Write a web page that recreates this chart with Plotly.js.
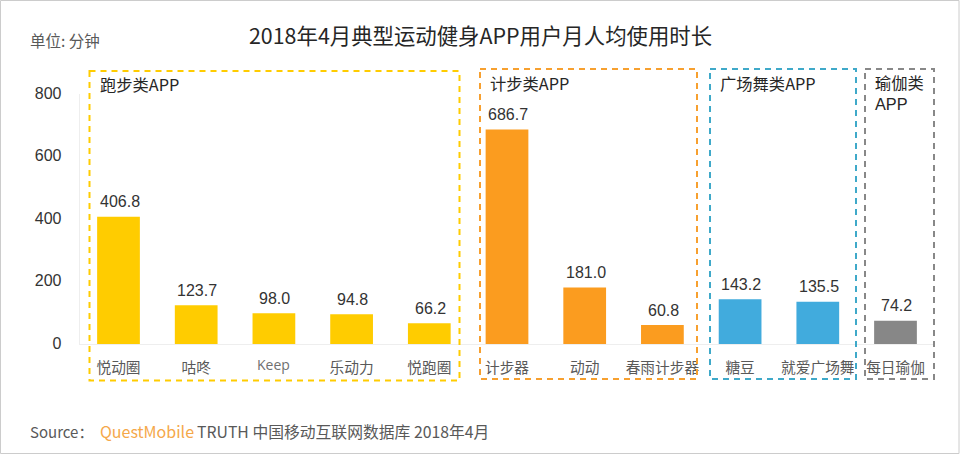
<!DOCTYPE html>
<html><head><meta charset="utf-8">
<script src="https://cdn.plot.ly/plotly-3.0.1.min.js"></script>
<style>html,body{margin:0;padding:0;background:#fff}#c{width:960px;height:454px}</style>
</head><body><div id="c"></div>
<script>
const categories=['悦动圈','咕咚','Keep','乐动力','悦跑圈','计步器','动动','春雨计步器','糖豆','就爱广场舞','每日瑜伽'];
const tickLabels=['悦动圈','咕咚','','乐动力','悦跑圈','计步器','动动','春雨计步器','糖豆','就爱广场舞','每日瑜伽'];
const values=[406.8,123.7,98.0,94.8,66.2,686.7,181.0,60.8,143.2,135.5,74.2];
const valueLabels=['406.8','123.7','98.0','94.8','66.2','686.7','181.0','60.8','143.2','135.5','74.2'];
const barColors=['#FFCC00','#FFCC00','#FFCC00','#FFCC00','#FFCC00','#FB9C1F','#FB9C1F','#FB9C1F','#41ABDD','#41ABDD','#878787'];
const yTicks=[0,200,400,600,800];
const W=960,H=454;
const sans='"Noto Sans CJK SC","Liberation Sans",sans-serif';
const latin='"Liberation Sans",Arial,sans-serif';
const px=x=>x/W, py=y=>1-y/H;
function box(x0,y0,x1,y1,color){return {type:'rect',xref:'paper',yref:'paper',x0:px(x0),x1:px(x1),y0:py(y0),y1:py(y1),line:{color:color,width:2,dash:'6px,5px'},fillcolor:'rgba(0,0,0,0)'};}
function label(x,y,text,size,color,anchor,family){return {xref:'paper',yref:'paper',x:px(x),y:py(y),text:text,showarrow:false,xanchor:anchor||'left',yanchor:'middle',align:'left',font:{family:family||sans,size:size,color:color},borderpad:0,borderwidth:0};}
const shapes=[
 box(89.5,71,459.5,380.5,'#FFCC00'),
 box(480,69,697,379,'#F7A02F'),
 box(710,69,856,379,'#3FA9C9'),
 box(865,69,934,379,'#888888'),
 {type:'rect',xref:'paper',yref:'paper',x0:px(0.5),x1:px(959),y0:py(0.5),y1:py(453.5),line:{color:'#CCCCCC',width:1},fillcolor:'rgba(0,0,0,0)'}
];
const valueAnnotations=categories.map((c,i)=>({xref:'x',yref:'y',x:c,y:values[i],text:valueLabels[i],showarrow:false,xanchor:'center',yanchor:'middle',xshift:1,yshift:15,font:{family:latin,size:16,color:'#333333'},borderpad:0}));
const annotations=[
 label(480,34.5,'2018年4月典型运动健身APP用户月人均使用时长',21.4,'#262626','center'),
 label(30,40,'单位: 分钟',15.5,'#595959'),
 label(100,84,'跑步类APP',16.3,'#262626'),
 label(490,83,'计步类APP',16.3,'#262626'),
 label(720,83,'广场舞类APP',16.3,'#262626'),
 label(875,82,'瑜伽类',16.3,'#262626'),
 label(875,104,'APP',16.3,'#262626','left',latin),
 label(30,431,'Source：',15,'#595959'),
 label(100,431,'QuestMobile',16,'#F5A84A'),
 label(197,431,'TRUTH 中国移动互联网数据库 2018年4月',15.8,'#595959'),
 {xref:'x',yref:'paper',x:'Keep',y:py(364),text:'Keep',showarrow:false,xanchor:'center',yanchor:'middle',font:{family:'"Open Sans",sans-serif',size:14,color:'#707070'}}
].concat(valueAnnotations);
Plotly.newPlot('c',[{
 type:'bar',x:categories,y:values,width:0.55,
 marker:{color:barColors,line:{width:0}},
 cliponaxis:false,hoverinfo:'skip'
}],{
 width:W,height:H,margin:{l:0,r:0,t:0,b:0,pad:0},
 paper_bgcolor:'#fff',plot_bgcolor:'#fff',showlegend:false,bargap:0.45,
 xaxis:{domain:[79.65/W,934.35/W],type:'category',categoryorder:'array',categoryarray:categories,tickvals:categories,ticktext:tickLabels,
  showgrid:false,zeroline:false,showline:true,linecolor:'#EEEEEE',linewidth:1,ticks:'',ticklabelstandoff:10,tickangle:0,
  tickfont:{family:sans,size:14.7,color:'#595959'}},
 yaxis:{domain:[1-344/H,1-94/H],range:[0,800],tickvals:yTicks,showgrid:false,zeroline:false,showline:true,linecolor:'#EEEEEE',linewidth:1,
  ticks:'',ticklabelstandoff:14,ticklabelshift:-1,tickfont:{family:latin,size:16,color:'#333333'}},
 shapes:shapes,annotations:annotations
},{displayModeBar:false,staticPlot:true});
</script></body></html>
